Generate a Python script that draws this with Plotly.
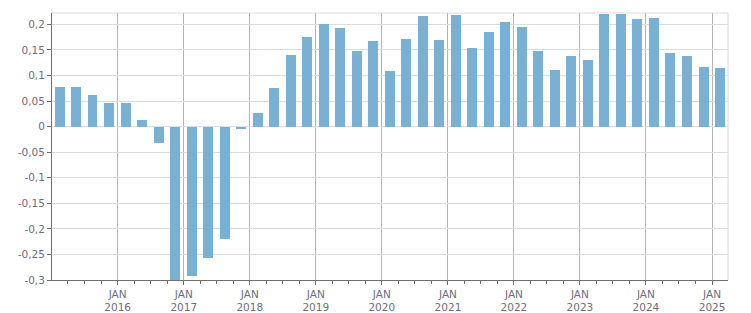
import plotly.graph_objects as go

quarters = [f"{y}-{m:02d}-15" for y in range(2015, 2026) for m in (2, 5, 8, 11)][:41]
values = [0.078, 0.078, 0.0625, 0.047, 0.047, 0.0137, -0.033, -0.305,
          -0.292, -0.257, -0.220, -0.004, 0.027, 0.076, 0.1406, 0.1758,
          0.201, 0.193, 0.148, 0.168, 0.109, 0.172, 0.217, 0.170,
          0.219, 0.154, 0.186, 0.205, 0.195, 0.148, 0.111, 0.139,
          0.131, 0.221, 0.221, 0.211, 0.213, 0.1445, 0.139, 0.117, 0.115]

year_ticks = [f"{y}-01-01" for y in range(2016, 2026)]
year_labels = [f"JAN<br>{y}" for y in range(2016, 2026)]
y_ticks = [0.2, 0.15, 0.1, 0.05, 0, -0.05, -0.1, -0.15, -0.2, -0.25, -0.3]
y_labels = ["0,2", "0,15", "0,1", "0,05", "0", "-0,05", "-0,1", "-0,15", "-0,2", "-0,25", "-0,3"]

font_color = "#6e6e7c"
day_ms = 86400000

fig = go.Figure(go.Bar(
    x=quarters, y=values,
    marker=dict(color="#78b1d3", line=dict(width=0)),
    width=[55 * day_ms] * len(values),
))

fig.update_layout(
    width=751, height=313,
    margin=dict(l=52, r=23, t=13, b=33),
    paper_bgcolor="white", plot_bgcolor="white",
    showlegend=False,
    font=dict(family="DejaVu Sans", size=10.5, color=font_color),
    bargap=0,
)

fig.update_xaxes(
    type="date", automargin=False,
    range=["2015-01-03", "2025-03-30"],
    tickvals=year_ticks, ticktext=year_labels,
    showgrid=True, gridcolor="#b4b4b4", gridwidth=1,
    showline=True, linecolor="#707070", linewidth=1,
    ticks="outside", ticklen=4, tickcolor="#707070",
    minor=dict(dtick="M3", tick0="2015-01-01", ticks="outside", ticklen=3,
               tickcolor="#707070", showgrid=False),
    tickfont=dict(size=10.5, color=font_color),
    zeroline=False,
)

fig.update_yaxes(
    range=[-0.3, 0.2222], automargin=False,
    tickvals=y_ticks, ticktext=y_labels,
    showgrid=True, gridcolor="#dcdcdc", gridwidth=1,
    showline=True, linecolor="#707070", linewidth=1,
    ticks="outside", ticklen=4, tickcolor="#707070",
    zeroline=False,
    tickfont=dict(size=10.5, color=font_color),
)

# light frame on top and right
fig.add_shape(type="line", xref="paper", yref="paper", x0=0, x1=1, y0=1, y1=1,
              line=dict(color="#dcdcdc", width=1))
fig.add_shape(type="line", xref="paper", yref="paper", x0=1, x1=1, y0=0, y1=1,
              line=dict(color="#dcdcdc", width=1))

fig.write_html("out.html")
